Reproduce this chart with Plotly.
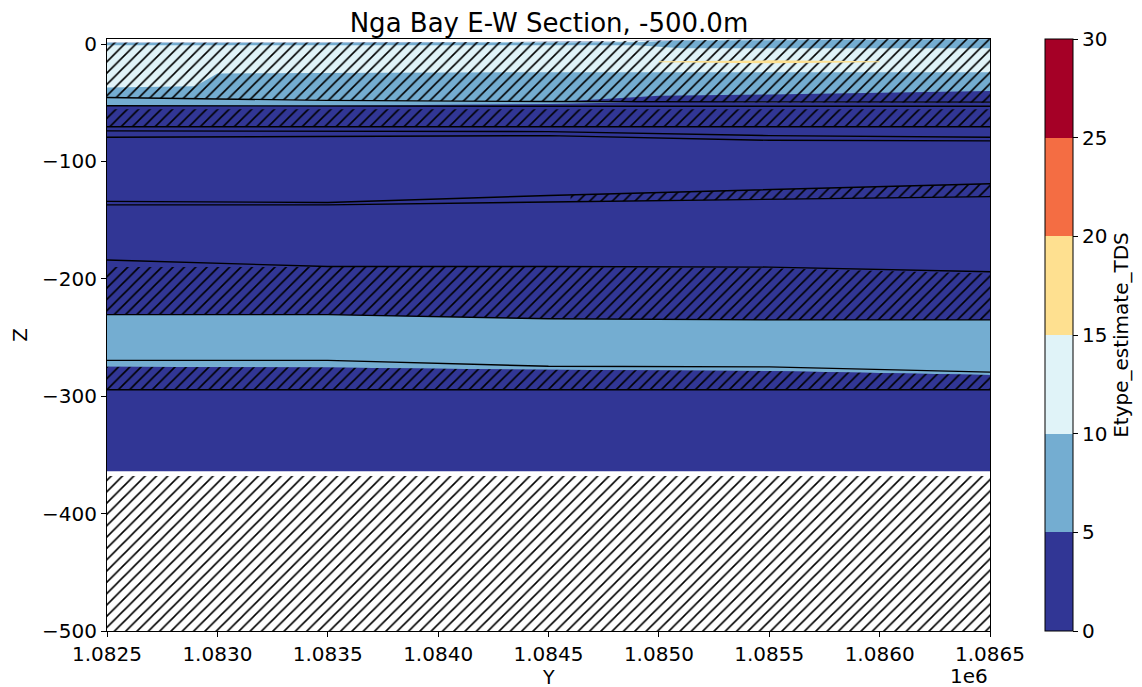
import plotly.graph_objects as go

# ---------------- data ----------------
X_NODES = [1082500, 1083500, 1084500, 1085500, 1086500]

X_TICKS = [1082500, 1083000, 1083500, 1084000, 1084500, 1085000, 1085500, 1086000, 1086500]
X_TICK_TEXT = ["1.0825", "1.0830", "1.0835", "1.0840", "1.0845", "1.0850", "1.0855", "1.0860", "1.0865"]
Y_TICKS = [0, -100, -200, -300, -400, -500]
Y_TICK_TEXT = ["0", "\u2212100", "\u2212200", "\u2212300", "\u2212400", "\u2212500"]

TDS_BOUNDS = [0, 5, 10, 15, 20, 25, 30]
TDS_COLORS = ["#313695", "#74add1", "#e0f3f8", "#fee090", "#f46d43", "#a50026"]

# surfaces (z, m) at X_NODES
UNIT_TOP = [1, 1, 2, 4, 4]
UNIT_BOT = [-45.5, -48, -49, -49.5, -49.5]
LINE_V = [-52.5, -53, -53, -53, -53]
CLAY1_TOP = [-55.5, -55.5, -55.5, -55.5, -55.5]
LINE_A = [-70.4, -70.4, -70.4, -70.4, -70.4]
LINE_B = [-74, -74, -74.6, -78, -79.4]
LINE_C = [-79.4, -79, -78, -82, -82.5]
LINE_D = [-134, -135, -129, -124, -119]
LINE_E = [-137, -137, -134.5, -132, -130]
LINE_F = [-184, -189.5, -189.5, -190, -194]
CLAY2_TOP = [-190, -190, -190, -191, -195.5]
CLAY2_BOT = [-230.5, -230.5, -234, -235, -235]
LINE_I = [-269.5, -269.5, -274.5, -275, -279.5]
CLAY3_TOP = [-275, -275.5, -277.5, -278.5, -282]
CLAY3_BOT = [-294.5, -294.5, -294.5, -294.5, -294.5]
AQ_BOT = [-364, -364, -364, -364, -364]
BASEMENT_TOP = [-368, -368, -368, -368, -368]
BASEMENT_BOT = [-500, -500, -500, -500, -500]

# partial lenses (own x nodes)
STRIP_X = [1082500, 1084900, 1085100, 1086500]
STRIP_TOP = [1, 1.5, 3, 4]
STRIP_BOT = [-1, -1, -3.5, -3.5]

MED_X = [1082500, 1082900, 1083000, 1084500, 1085500, 1086500]
MED_TOP = [-37, -36, -25, -24, -24, -24]
MED_BOT = [-45.5, -46.5, -46.7, -49, -49.5, -49.5]

DARK_X = [1084600, 1085000, 1085500, 1086500]
DARK_TOP = [-48.5, -44, -43, -40]
DARK_BOT = [-49, -49.2, -49.5, -49.5]

YEL_X = [1085000, 1085500, 1086000]
YEL_TOP = [-14.6, -13.9, -14.6]
YEL_BOT = [-15.4, -16.3, -15.4]

LB_X = [1082500, 1083500, 1084500, 1084900]
LB_TOP = [-45.5, -48, -49, -49.5]
LB_BOT = [-52.5, -52.5, -51, -49.5]

DE_X = [1084600, 1085500, 1086500]
DE_TOP = [-128.5, -124, -119]
DE_BOT = [-134.3, -132, -130]

# TDS estimate value of each unit
TDS_AQUIFER = 2
TDS_FRESH = 12
TDS_BRACKISH = 7
TDS_YELLOW = 17


def tds_color(v):
    for i in range(len(TDS_COLORS)):
        if TDS_BOUNDS[i] <= v < TDS_BOUNDS[i + 1]:
            return TDS_COLORS[i]
    return TDS_COLORS[-1]


# (x, top, bottom, colour, hatched)
LAYERS = [
    (X_NODES, UNIT_TOP, AQ_BOT, tds_color(TDS_AQUIFER), False),
    (X_NODES, UNIT_TOP, UNIT_BOT, tds_color(TDS_FRESH), True),
    (STRIP_X, STRIP_TOP, STRIP_BOT, tds_color(TDS_BRACKISH), True),
    (MED_X, MED_TOP, MED_BOT, tds_color(TDS_BRACKISH), True),
    (DARK_X, DARK_TOP, DARK_BOT, tds_color(TDS_AQUIFER), True),
    (YEL_X, YEL_TOP, YEL_BOT, tds_color(TDS_YELLOW), False),
    (LB_X, LB_TOP, LB_BOT, tds_color(TDS_BRACKISH), False),
    (X_NODES, CLAY1_TOP, LINE_A, tds_color(TDS_AQUIFER), True),
    (DE_X, DE_TOP, DE_BOT, tds_color(TDS_AQUIFER), True),
    (X_NODES, CLAY2_TOP, CLAY2_BOT, tds_color(TDS_AQUIFER), True),
    (X_NODES, CLAY2_BOT, CLAY3_TOP, tds_color(TDS_BRACKISH), False),
    (X_NODES, CLAY3_TOP, CLAY3_BOT, tds_color(TDS_AQUIFER), True),
    (X_NODES, BASEMENT_TOP, BASEMENT_BOT, "#ffffff", True),
]

LINES = [UNIT_BOT, LINE_V, LINE_A, LINE_B, LINE_C, LINE_D, LINE_E,
         LINE_F, CLAY2_BOT, LINE_I, CLAY3_BOT]

FONT = "DejaVu Sans"
TICK_SIZE = 20
TITLE_SIZE = 26
CBAR_LABEL_SIZE = 20

fig = go.Figure()

for xs, top, bot, col, hatched in LAYERS:
    px = list(xs) + list(xs)[::-1] + [xs[0]]
    py = list(top) + list(bot)[::-1] + [top[0]]
    kw = dict(x=px, y=py, mode="lines", fill="toself", line=dict(width=0),
              fillcolor=col, hoverinfo="skip", showlegend=False)
    if hatched:
        kw["fillpattern"] = dict(shape="/", size=8, solidity=0.2,
                                 fgcolor="black", bgcolor=col, fillmode="replace")
    fig.add_trace(go.Scatter(**kw))

for zline in LINES:
    fig.add_trace(go.Scatter(x=X_NODES, y=zline, mode="lines",
                             line=dict(color="black", width=1.4),
                             hoverinfo="skip", showlegend=False))

# discrete colour scale for colourbar
cscale = []
n = len(TDS_COLORS)
for i, c in enumerate(TDS_COLORS):
    cscale.append([i / n, c])
    cscale.append([(i + 1) / n, c])

fig.add_trace(go.Scatter(
    x=[X_NODES[0], X_NODES[0]], y=[-600, -600], mode="markers",
    marker=dict(size=0.1, color=[TDS_BOUNDS[0], TDS_BOUNDS[-1]], cmin=TDS_BOUNDS[0],
                cmax=TDS_BOUNDS[-1], colorscale=cscale, showscale=True,
                colorbar=dict(
                    x=1.062, xanchor="left", y=0, yanchor="bottom", len=1.0,
                    lenmode="fraction", thickness=28, xpad=0, ypad=0,
                    outlinecolor="black", outlinewidth=1,
                    ticks="outside", ticklen=5, tickcolor="black",
                    tickvals=TDS_BOUNDS, ticktext=[str(v) for v in TDS_BOUNDS],
                    tickfont=dict(family=FONT, size=TICK_SIZE, color="black"),
                    title=dict(text="Etype_estimate_TDS", side="right",
                               font=dict(family=FONT, size=CBAR_LABEL_SIZE, color="black")),
                )),
    hoverinfo="skip", showlegend=False))

fig.update_layout(
    width=1142, height=687,
    margin=dict(l=99, r=160, t=31, b=64, autoexpand=False),
    paper_bgcolor="white", plot_bgcolor="white",
    font=dict(family=FONT, size=TICK_SIZE, color="black"),
    title=dict(text="Nga Bay E-W Section, -500.0m", x=0.4737, xanchor="center",
               y=0.979, yanchor="middle", font=dict(family=FONT, size=TITLE_SIZE, color="black")),
    xaxis=dict(range=[X_TICKS[0], X_TICKS[-1]], tickvals=X_TICKS, ticktext=X_TICK_TEXT,
               ticks="outside", ticklen=5, tickcolor="black", showgrid=False, zeroline=False,
               showline=True, mirror=True, linecolor="black", linewidth=1, automargin=False,
               tickfont=dict(family=FONT, size=TICK_SIZE)),
    yaxis=dict(range=[-500, 4.3], tickvals=Y_TICKS, ticktext=Y_TICK_TEXT,
               ticks="outside", ticklen=5, tickcolor="black", showgrid=False, zeroline=False,
               showline=True, mirror=True, linecolor="black", linewidth=1, automargin=False,
               title=dict(text="Z", standoff=12, font=dict(family=FONT, size=TICK_SIZE)),
               tickfont=dict(family=FONT, size=TICK_SIZE)),
    annotations=[
        dict(text="Y", xref="paper", yref="paper", x=0.5, y=0, xanchor="center",
             yanchor="top", yshift=-34, showarrow=False, borderpad=0,
             font=dict(family=FONT, size=19, color="black")),
        dict(text="1e6", xref="paper", yref="paper", x=1.0, y=0, xanchor="right",
             yanchor="top", yshift=-31, showarrow=False,
             font=dict(family=FONT, size=TICK_SIZE, color="black")),
    ],
)

fig.write_html("out.html")
